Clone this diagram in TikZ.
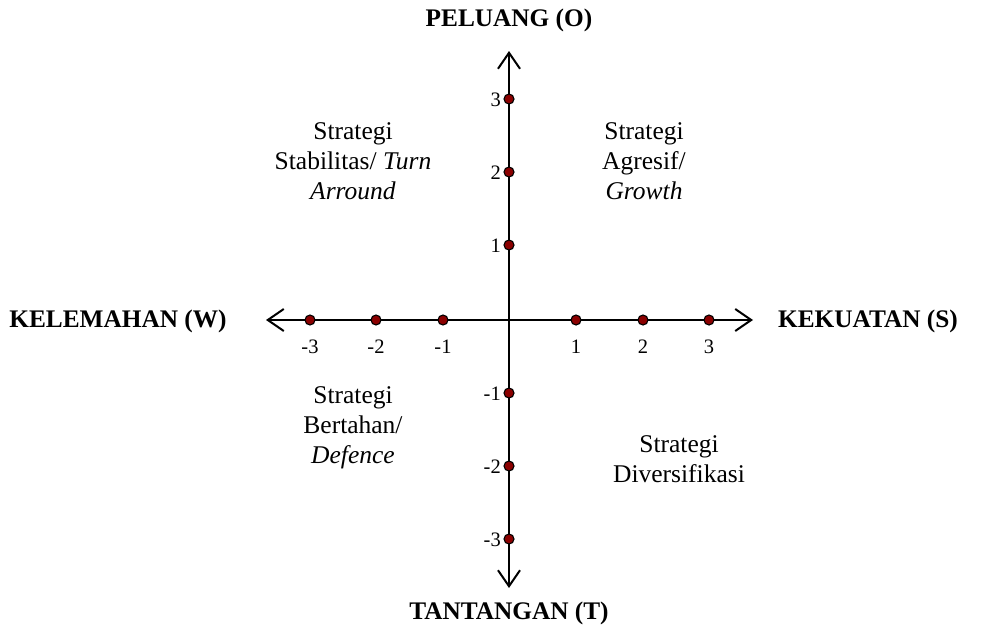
\documentclass[tikz,border=0pt]{standalone}
\usepackage{fontspec}
\setmainfont{Liberation Serif}
\usetikzlibrary{arrows.meta}
\definecolor{dotred}{HTML}{8B0000}
\begin{document}
\begin{tikzpicture}[x=1pt,y=-1pt,
  axis/.style={line width=2pt,-{Straight Barb[length=16pt,width=22pt,line width=2pt]}},
  pt/.style={circle,draw=black,line width=1.1pt,fill=dotred,inner sep=0pt,minimum size=10pt},
  big/.style={font=\fontsize{25.3}{29}\selectfont\bfseries},
  quad/.style={font=\fontsize{25.5}{30}\selectfont,align=center},
  tick/.style={font=\fontsize{20.5}{23}\selectfont},
  vtick/.style={tick,anchor=east,inner sep=0pt}]
\useasboundingbox (0,0) rectangle (982,632);
\coordinate (O) at (509,320);
\coordinate (L) at (266,320);
\coordinate (R) at (753,320);
\coordinate (T) at (509,51);
\coordinate (B) at (509,588);
\draw[axis] (O) -- (R);
\draw[axis] (O) -- (L);
\draw[axis] (O) -- (T);
\draw[axis] (O) -- (B);
% horizontal points
\node[pt] (xm3) at (310,320) {};
\node[pt] (xm2) at (376,320) {};
\node[pt] (xm1) at (443,320) {};
\node[pt] (xp1) at (576,320) {};
\node[pt] (xp2) at (643,320) {};
\node[pt] (xp3) at (709,320) {};
\node[tick] (lxm3) at (310,347) {-3};
\node[tick] (lxm2) at (376,347) {-2};
\node[tick] (lxm1) at (443,347) {-1};
\node[tick] (lxp1) at (576,347) {1};
\node[tick] (lxp2) at (643,347) {2};
\node[tick] (lxp3) at (709,347) {3};
% vertical points
\node[pt] (yp3) at (509,99) {};
\node[pt] (yp2) at (509,172) {};
\node[pt] (yp1) at (509,245) {};
\node[pt] (ym1) at (509,393) {};
\node[pt] (ym2) at (509,466) {};
\node[pt] (ym3) at (509,539) {};
\node[vtick] (lyp3) at (501,100) {3};
\node[vtick] (lyp2) at (501,173) {2};
\node[vtick] (lyp1) at (501,246) {1};
\node[vtick] (lym1) at (501,394) {-1};
\node[vtick] (lym2) at (501,467) {-2};
\node[vtick] (lym3) at (501,540) {-3};
% axis titles
\node[big] (po) at (509,20) {PELUANG (O)};
\node[big] (tt) at (509,613) {TANTANGAN (T)};
\node[big] (kw) at (118,321) {KELEMAHAN (W)};
\node[big] (ks) at (868,321) {KEKUATAN (S)};
% quadrants
\node[quad] (q1) at (353,161) {Strategi\\Stabilitas/ \textit{Turn}\\\textit{Arround}};
\node[quad] (q2) at (644,161) {Strategi\\Agresif/\\\textit{Growth}};
\node[quad] (q3) at (353,428) {Strategi\\Bertahan/\\\textit{Defence}};
\node[quad] (q4) at (679,459) {Strategi\\Diversifikasi};
\end{tikzpicture}
\end{document}
